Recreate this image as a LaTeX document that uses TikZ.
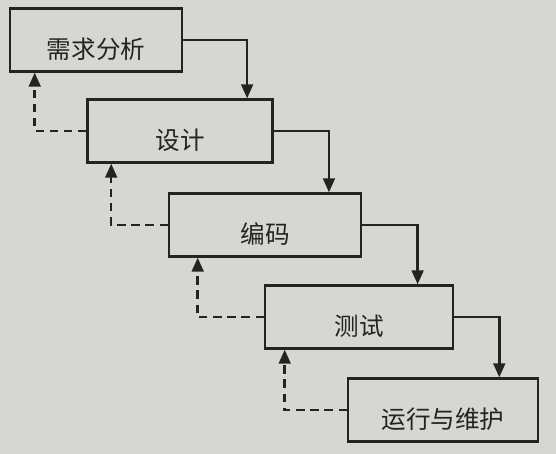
\documentclass[tikz,border=0pt]{standalone}
\usepackage{fontspec}
\newfontfamily\cjk{Noto Sans CJK SC}
\usetikzlibrary{arrows.meta}
\definecolor{paper}{RGB}{214,214,211}
\definecolor{ink}{RGB}{35,35,35}
\begin{document}
\begin{tikzpicture}[x=0.03cm, y=-0.03cm, >={Triangle[length=12pt,width=10pt]},
	stage/.style={draw=ink, line width=2.2pt, minimum height=1.88cm, inner sep=0pt,
		text height=1.1cm, text depth=0pt,
		font=\cjk\fontsize{21}{24}\selectfont, text=ink},
	flow/.style={->, draw=ink, line width=2.2pt},
	back/.style={->, draw=ink, line width=2.2pt, dash pattern=on 7pt off 5pt}]
	% 1. 背景
	\fill[paper] (0,0) rectangle (556,454);
	\useasboundingbox (0,0) rectangle (556,454);
	
	% 2. 各阶段方框
	\node[stage, minimum width=5.16cm] (xq) at (96,40)  {需求分析};
	\node[stage, minimum width=5.55cm] (sj) at (180,131) {设计};
	\node[stage, minimum width=5.76cm] (bm) at (265,225) {编码};
	\node[stage, minimum width=5.64cm] (cs) at (359,317) {测试};
	\node[stage, minimum width=5.70cm] (yx) at (443,410) {运行与维护};
	
	% 3. 向下的实线箭头
	\draw[flow] (xq.east) -| ([xshift=-0.8cm]sj.north east);
	\draw[flow] (sj.east) -| ([xshift=-1.0cm]bm.north east);
	\draw[flow] (bm.east) -| ([xshift=-1.1cm]cs.north east);
	\draw[flow] (cs.east) -| ([xshift=-1.2cm]yx.north east);
	
	% 4. 向上的虚线反馈箭头
	\draw[back] (sj.west) -| ([xshift=0.78cm]xq.south west);
	\draw[back] (bm.west) -| ([xshift=0.75cm]sj.south west);
	\draw[back] (cs.west) -| ([xshift=0.9cm]bm.south west);
	\draw[back] (yx.west) -| ([xshift=0.63cm]cs.south west);
\end{tikzpicture}
\end{document}
